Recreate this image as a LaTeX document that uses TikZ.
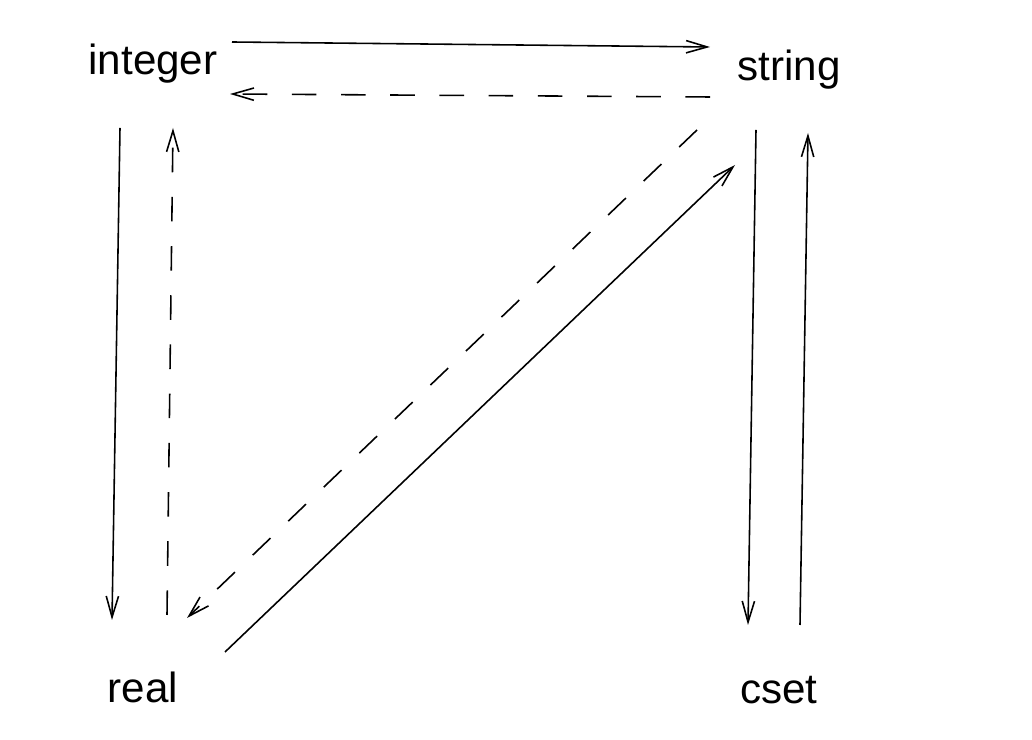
\documentclass[tikz,border=0pt]{standalone}
\usepackage{fontspec}
\setmainfont{Liberation Sans}
\usetikzlibrary{arrows.meta,calc}

\begin{document}
\begin{tikzpicture}[x=0.02cm, y=0.02cm,
    every node/.style={font=\fontsize{24}{28}\selectfont, inner sep=0pt},
    arr/.style={line width=0.9pt, -{Straight Barb[length=12pt,width=7pt]}},
    dasharr/.style={arr, dash pattern=on 14pt off 14pt}]
    \useasboundingbox (0,0) rectangle (1032,740);
    \node (int) at (153,676) {integer};
    \node (str) at (789,670) {string};
    \node (re) at (143,53) {real};
    \node (cs) at (779,50) {cset};

    \path[arr]
      ($(int)+(79,22)$) edge ($(str)+(-79,23)$)
      ($(int)+(-33,-64)$) edge ($(re)+(-31,67)$)
      ($(re)+(82,35)$) edge ($(str)+(-54,-95)$)
      ($(str)+(-33,-60)$) edge ($(cs)+(-31,65)$)
      ($(cs)+(21,65)$) edge ($(str)+(19,-63)$);
    \path[dasharr]
      ($(str)+(-79,-27)$) edge ($(int)+(77,-30)$)
      ($(re)+(24,72)$) edge ($(int)+(20,-64)$)
      ($(str)+(-92,-60)$) edge ($(re)+(44,69)$);
  \end{tikzpicture}
\end{document}
